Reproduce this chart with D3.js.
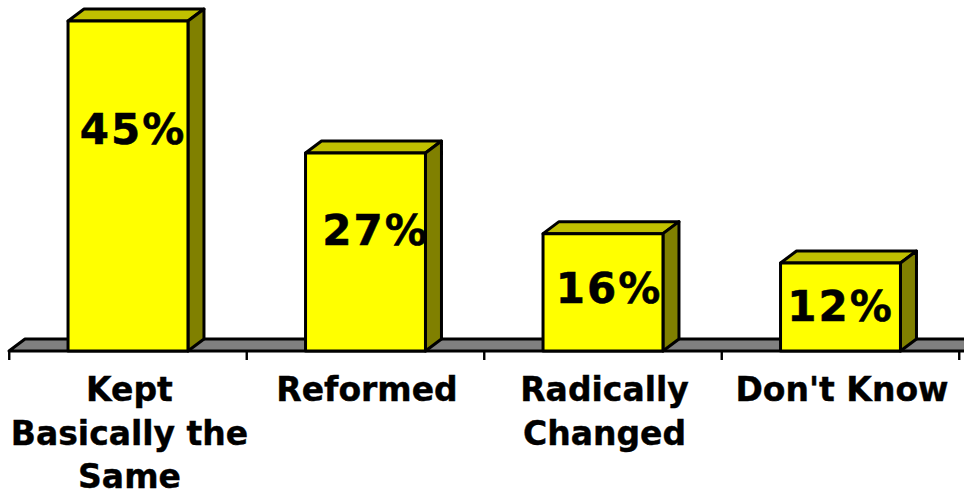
<!DOCTYPE html>
<html><head><meta charset="utf-8">
<script src="https://cdnjs.cloudflare.com/ajax/libs/d3/7.8.5/d3.min.js"></script>
<style>html,body{margin:0;padding:0;background:#fff}svg{display:block}text{font-family:"DejaVu Sans";font-weight:bold;fill:#000}</style>
</head><body><svg id="c" width="964" height="493"></svg>
<script>
const categories = [["Kept","Basically the","Same"],["Reformed"],["Radically","Changed"],["Don't Know"]];
const values = [45,27,16,12];
const labels = ["45%","27%","16%","12%"];
const labelDx = [5,10,6,0];
const labelBaseline = [144,245,303,321];
const W=964,H=493,dx=16,dy=-12,baseY=351;
const svg=d3.select("#c");
const names=categories.map(c=>c.join(" "));
const x=d3.scaleBand().domain(names).range([9.25,959.25]).paddingInner(.495).paddingOuter(.2475);
const y=d3.scaleLinear().domain([0,45]).range([baseY,21]);
const sw=3;
svg.append("path").attr("d",`M9,${baseY}L${9+dx},${baseY+dy}L${W+5},${baseY+dy}L${W+5},${baseY}Z`).attr("fill","#808080").attr("stroke","#000").attr("stroke-width",sw).attr("stroke-linejoin","round");
const edges=d3.range(names.length+1).map(i=>9.25+i*x.step());
svg.selectAll(".tick").data(edges).join("line").attr("x1",d=>d).attr("x2",d=>d).attr("y1",baseY).attr("y2",360).attr("stroke","#000").attr("stroke-width",2.4);
const g=svg.selectAll(".bar").data(names).join("g").attr("class","bar");
const bw=x.bandwidth();
const st=s=>s.attr("stroke","#000").attr("stroke-width",sw).attr("stroke-linejoin","round");
g.append("path").attr("d",(d,i)=>{const l=x(d),t=y(values[i]);return `M${l},${t}L${l+dx},${t+dy}L${l+bw+dx},${t+dy}L${l+bw},${t}Z`}).attr("fill","#c0c000").call(st);
g.append("path").attr("d",(d,i)=>{const r=x(d)+bw,t=y(values[i]);return `M${r},${t}L${r+dx},${t+dy}L${r+dx},${baseY+dy}L${r},${baseY}Z`}).attr("fill","#808000").call(st);
g.append("rect").attr("x",d=>x(d)).attr("width",bw).attr("y",(d,i)=>y(values[i])).attr("height",(d,i)=>baseY-y(values[i])).attr("fill","#ffff00").call(st);
g.append("text").attr("text-anchor","middle").attr("font-size",42).attr("letter-spacing",2).attr("stroke","#000").attr("stroke-width",.5).attr("x",(d,i)=>x(d)+bw/2+labelDx[i]).attr("y",(d,i)=>labelBaseline[i]).text((d,i)=>labels[i]);
svg.selectAll(".cat").data(categories).join("text").attr("class","cat").attr("text-anchor","middle").attr("font-size",33).attr("stroke","#000").attr("stroke-width",.4).each(function(c,i){
 d3.select(this).selectAll("tspan").data(c).join("tspan").attr("x",x(names[i])+bw/2+1.5).attr("y",(d,j)=>401+j*43.5).text(d=>d);
});
</script></body></html>
